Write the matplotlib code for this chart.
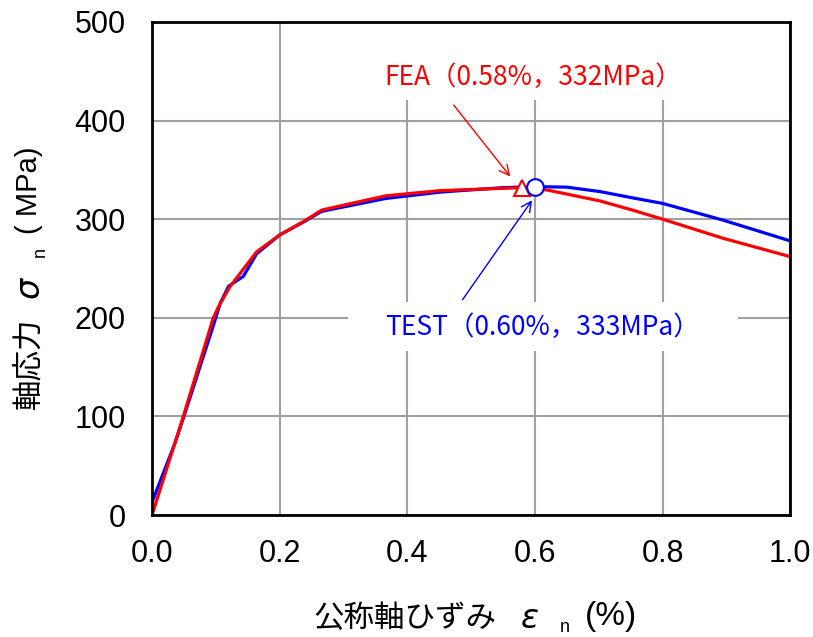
import matplotlib
matplotlib.use("Agg")
import matplotlib.pyplot as plt
from matplotlib.patches import Rectangle

# ---- data ----
fea_x = [0.0, 0.049, 0.096, 0.104, 0.122, 0.164, 0.200, 0.237, 0.266, 0.366, 0.452, 0.58, 0.619, 0.702, 0.754, 0.80, 0.895, 1.0]
fea_y = [0.0, 100, 200, 211, 231.5, 267, 284, 297.5, 309.3, 323.7, 329, 332, 329.6, 318.5, 309, 300, 280.6, 262]

test_x = [0.0, 0.036, 0.05, 0.075, 0.095, 0.107, 0.12, 0.143, 0.164, 0.20, 0.237, 0.266, 0.366, 0.452, 0.55, 0.60, 0.65, 0.702, 0.75, 0.80, 0.895, 1.0]
test_y = [13, 73, 100, 150, 190, 215, 232, 242, 265, 284, 297, 308, 321, 327.5, 332, 333, 332.5, 328, 322, 316, 299, 278]

fea_peak = (0.58, 332)
test_peak = (0.60, 333)
fea_label = "FEA（0.58%，332MPa）"
test_label = "TEST（0.60%，333MPa）"

xticks = [0.0, 0.2, 0.4, 0.6, 0.8, 1.0]
yticks = [0, 100, 200, 300, 400, 500]

cjk = ['Noto Sans CJK JP', 'DejaVu Sans']
W, H = 813.0, 637.0

fig = plt.figure(figsize=(8.13, 6.37), dpi=100)
ax = fig.add_axes([0.187, 0.1915, 0.785, 0.774])

ax.set_xlim(0, 1.0)
ax.set_ylim(0, 500)
ax.set_xticks(xticks)
ax.set_yticks(yticks)
ax.set_xticklabels([f"{v:.1f}" for v in xticks], family='Liberation Sans', fontsize=22)
ax.set_yticklabels([f"{v}" for v in yticks], family='Liberation Sans', fontsize=22)
ax.tick_params(axis='both', length=0)
ax.tick_params(axis='x', pad=17)
ax.tick_params(axis='y', pad=19)

ax.grid(True, color='#a0a0a0', lw=1.5, zorder=0)
ax.set_axisbelow(True)
for s in ax.spines.values():
    s.set_linewidth(2.0)
    s.set_color('black')
    s.set_zorder(10)

# white boxes behind annotation texts (hide grid lines)
ax.add_patch(Rectangle((0.33, 421), 0.54, 79, facecolor='white', edgecolor='none', zorder=1))
ax.add_patch(Rectangle((0.307, 166), 0.611, 50, facecolor='white', edgecolor='none', zorder=1))

ax.plot(test_x, test_y, color='#0000ff', lw=2.3, zorder=3, solid_joinstyle='round')
ax.plot(fea_x, fea_y, color='#ff0000', lw=2.3, zorder=4, solid_joinstyle='round')

ax.plot([fea_peak[0]], [fea_peak[1]], marker='^', ms=11, mfc='white', mec='#ff0000', mew=1.5, zorder=5, clip_on=False)
ax.plot([test_peak[0]], [test_peak[1]], marker='o', ms=12, mfc='white', mec='#0000ff', mew=1.5, zorder=6, clip_on=False)

ax.annotate('', xy=(0.564, 341), xytext=(0.470, 418),
            arrowprops=dict(arrowstyle='->', color='#ff0000', lw=1.0, mutation_scale=18), zorder=7)
ax.annotate('', xy=(0.598, 321.5), xytext=(0.484, 216),
            arrowprops=dict(arrowstyle='->', color='#0000ff', lw=1.0, mutation_scale=18), zorder=7)

ax.text(0.597, 444, fea_label, color='#ff0000', fontsize=19, family=cjk, ha='center', va='center', zorder=8)
ax.text(0.611, 190.5, test_label, color='#0000ff', fontsize=19, family=cjk, ha='center', va='center', zorder=8)


def fx(px):
    return px / W


def fy(py):
    return 1 - py / H


# x axis label (pieces)
fig.text(fx(405), fy(627), "公称軸ひずみ", fontsize=22, family=cjk, ha='center', va='baseline')
fig.text(fx(530), fy(628), "ε", fontsize=24, family='DejaVu Sans', style='italic', ha='center', va='baseline')
fig.text(fx(565), fy(632), "n", fontsize=13, family='Liberation Sans', ha='center', va='baseline')
fig.text(fx(611), fy(625), "(%)", fontsize=24, family='Liberation Sans', ha='center', va='baseline')

# y axis label (pieces)
kw = dict(ha='center', va='baseline', rotation=90, rotation_mode='anchor')
fig.text(fx(38), fy(363), "軸応力", fontsize=22, family=cjk, **kw)
fig.text(fx(39), fy(287), "σ", fontsize=24, family='DejaVu Sans', style='italic', **kw)
fig.text(fx(45), fy(252), "n", fontsize=13, family='Liberation Sans', **kw)
fig.text(fx(37), fy(190), "( MPa)", fontsize=21, family='Liberation Sans', **kw)

fig.savefig("out.png", dpi=100)
